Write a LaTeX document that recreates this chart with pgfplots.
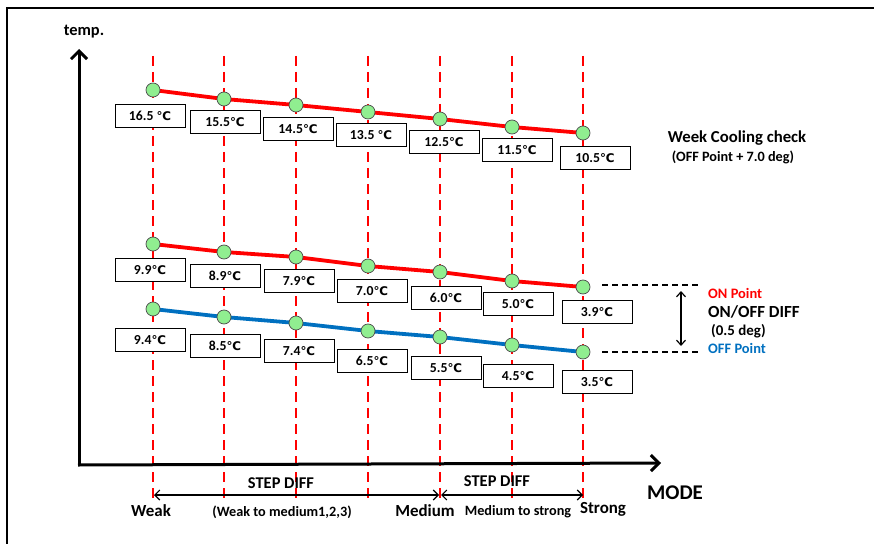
\documentclass[border=0pt]{standalone}
\usepackage{pgfplots}
\pgfplotsset{compat=1.18}
\usetikzlibrary{arrows.meta}
\usepackage{fontspec}
\setmainfont{Carlito}
\newfontfamily\dejavu{DejaVu Sans}
\definecolor{ptgreen}{RGB}{144,238,144}
\definecolor{offblue}{RGB}{0,112,192}
\definecolor{mred}{RGB}{255,0,0}
\newcommand{\degC}{{\dejavu\bfseries\fontsize{12}{13}\selectfont ℃}}
\newcommand{\fs}[1]{\fontsize{#1}{#1}\selectfont}
\tikzset{
  tb/.style={draw=black, fill=white, line width=0.9bp, minimum width=70bp, minimum height=23bp, inner sep=0pt, font=\bfseries\fs{13.8}},
  lab/.style={font=\bfseries, inner sep=0pt},
}
\pgfplotsset{
  vd/.style={color=mred, line width=1.6bp, dash pattern=on 10bp off 6bp, forget plot},
}
\begin{document}
\begin{tikzpicture}
\begin{axis}[
  scale only axis, width=874bp, height=544bp,
  xmin=0, xmax=874, ymin=0, ymax=544, y dir=reverse,
  hide axis, clip=false,
]
% frame
\draw[line width=2.5bp] (axis cs:7,546) -- (axis cs:7,8) -- (axis cs:876,8);
% vertical dashed mode lines
\addplot[vd] coordinates {(153,56) (153,498)};
\addplot[vd] coordinates {(224,56) (224,498)};
\addplot[vd] coordinates {(296,56) (296,498)};
\addplot[vd] coordinates {(368,56) (368,498)};
\addplot[vd] coordinates {(440,56) (440,498)};
\addplot[vd] coordinates {(512,56) (512,498)};
\addplot[vd] coordinates {(583,56) (583,498)};
% axes
\draw[line width=3bp, -{Straight Barb[length=8bp,width=16bp,line width=3bp]}] (axis cs:79,466) -- (axis cs:79,49);
\draw[line width=3bp, -{Straight Barb[length=8bp,width=16bp,line width=3bp]}] (axis cs:78,465) -- (axis cs:661,463);
% series
\addplot[color=mred, line width=3.8bp, mark=*, mark size=7bp, mark options={fill=ptgreen, draw=black!70, line width=0.7bp}] coordinates {
  (153,90) (224,99) (296,105) (368,112) (440,119) (512,127) (583,133)};
\addplot[color=mred, line width=3.8bp, mark=*, mark size=7bp, mark options={fill=ptgreen, draw=black!70, line width=0.7bp}] coordinates {
  (153,244) (224,252) (296,257) (368,266) (440,272) (512,281) (583,287)};
\addplot[color=offblue, line width=3.8bp, mark=*, mark size=7bp, mark options={fill=ptgreen, draw=black!70, line width=0.7bp}] coordinates {
  (153,309) (224,317) (296,323) (368,331) (440,337) (512,345) (583,352)};
% value boxes
\node[tb] at (axis cs:150,116) {16.5 \degC};
\node[tb] at (axis cs:225,122) {15.5\degC};
\node[tb] at (axis cs:298,129) {14.5\degC};
\node[tb] at (axis cs:371,135) {13.5 \degC};
\node[tb] at (axis cs:444,142) {12.5\degC};
\node[tb] at (axis cs:517,150) {11.5\degC};
\node[tb] at (axis cs:595,158) {10.5\degC};
\node[tb] at (axis cs:150,270) {9.9\degC};
\node[tb] at (axis cs:225,276) {8.9\degC};
\node[tb] at (axis cs:299,281) {7.9\degC};
\node[tb] at (axis cs:372,291) {7.0\degC};
\node[tb] at (axis cs:446,298) {6.0\degC};
\node[tb] at (axis cs:518,304) {5.0\degC};
\node[tb] at (axis cs:597,312) {3.9\degC};
\node[tb] at (axis cs:150,340) {9.4\degC};
\node[tb] at (axis cs:225,346) {8.5\degC};
\node[tb] at (axis cs:299,351) {7.4\degC};
\node[tb] at (axis cs:372,361) {6.5\degC};
\node[tb] at (axis cs:446,368) {5.5\degC};
\node[tb] at (axis cs:518,376) {4.5\degC};
\node[tb] at (axis cs:597,382) {3.5\degC};
% right annotations
\node[lab, font=\bfseries\fs{16.8}] at (axis cs:737,138) {Week Cooling check};
\node[lab, font=\bfseries\fs{14.3}] at (axis cs:733,157) {(OFF Point + 7.0 deg)};
\draw[line width=1.3bp, dash pattern=on 6bp off 4bp] (axis cs:602,285) -- (axis cs:698,285);
\draw[line width=1.3bp, dash pattern=on 6bp off 4bp] (axis cs:602,352) -- (axis cs:698,352);
\draw[line width=1.2bp, {Straight Barb[length=5bp,width=9bp]}-{Straight Barb[length=5bp,width=9bp]}] (axis cs:681,291) -- (axis cs:681,346);
\node[lab, anchor=west, text=mred, font=\bfseries\fs{14.5}] at (axis cs:708,293) {ON Point};
\node[lab, anchor=west, font=\bfseries\fs{17}] at (axis cs:708,312) {ON/OFF DIFF};
\node[lab, anchor=west, font=\bfseries\fs{15}] at (axis cs:711,331) {(0.5 deg)};
\node[lab, anchor=west, text=offblue, font=\bfseries\fs{14.5}] at (axis cs:708,348) {OFF Point};
% labels
\node[lab, font=\bfseries\fs{16.5}] at (axis cs:84,32) {temp.};
\node[lab, font=\bfseries\fs{16.5}] at (axis cs:281,483) {STEP DIFF};
\node[lab, font=\bfseries\fs{16.5}] at (axis cs:497,481) {STEP DIFF};
\draw[line width=1.1bp, {Straight Barb[length=5bp,width=10bp]}-{Straight Barb[length=5bp,width=10bp]}] (axis cs:154,495) -- (axis cs:439,495);
\draw[line width=1.1bp, {Straight Barb[length=5bp,width=10bp]}-{Straight Barb[length=5bp,width=10bp]}] (axis cs:441,495) -- (axis cs:583,495);
\node[lab, font=\bfseries\fs{17}] at (axis cs:151,511) {Weak};
\node[lab, font=\bfseries\fs{14.3}] at (axis cs:282,512) {(Weak to medium1,2,3)};
\node[lab, font=\bfseries\fs{17}] at (axis cs:425,511) {Medium};
\node[lab, font=\bfseries\fs{14.3}] at (axis cs:518,512) {Medium to strong};
\node[lab, font=\bfseries\fs{17}] at (axis cs:603,509) {Strong};
\node[lab, font=\bfseries\fs{21}] at (axis cs:675,493) {MODE};
\end{axis}
\pgfresetboundingbox
\useasboundingbox (current axis.south west) rectangle (current axis.north east);
\end{tikzpicture}
\end{document}
